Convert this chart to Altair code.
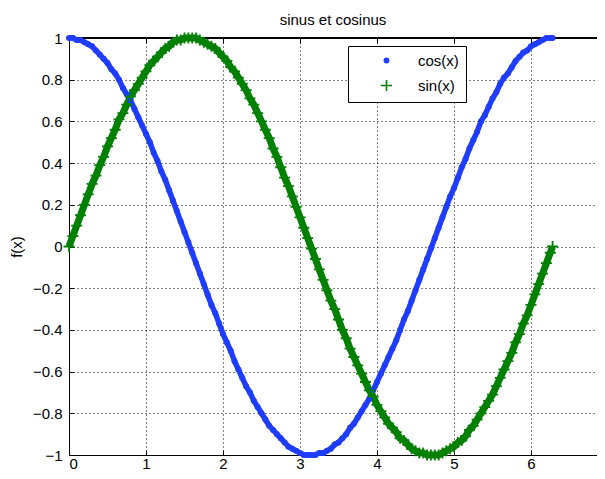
import altair as alt
import pandas as pd

x_vals = [
    0.00, 0.05, 0.10, 0.15, 0.20, 0.25, 0.30, 0.35, 0.40, 0.45,
    0.50, 0.55, 0.60, 0.65, 0.70, 0.75, 0.80, 0.85, 0.90, 0.95,
    1.00, 1.05, 1.10, 1.15, 1.20, 1.25, 1.30, 1.35, 1.40, 1.45,
    1.50, 1.55, 1.60, 1.65, 1.70, 1.75, 1.80, 1.85, 1.90, 1.95,
    2.00, 2.05, 2.10, 2.15, 2.20, 2.25, 2.30, 2.35, 2.40, 2.45,
    2.50, 2.55, 2.60, 2.65, 2.70, 2.75, 2.80, 2.85, 2.90, 2.95,
    3.00, 3.05, 3.10, 3.15, 3.20, 3.25, 3.30, 3.35, 3.40, 3.45,
    3.50, 3.55, 3.60, 3.65, 3.70, 3.75, 3.80, 3.85, 3.90, 3.95,
    4.00, 4.05, 4.10, 4.15, 4.20, 4.25, 4.30, 4.35, 4.40, 4.45,
    4.50, 4.55, 4.60, 4.65, 4.70, 4.75, 4.80, 4.85, 4.90, 4.95,
    5.00, 5.05, 5.10, 5.15, 5.20, 5.25, 5.30, 5.35, 5.40, 5.45,
    5.50, 5.55, 5.60, 5.65, 5.70, 5.75, 5.80, 5.85, 5.90, 5.95,
    6.00, 6.05, 6.10, 6.15, 6.20, 6.25, 6.28,
]

cos_vals = [
    1.00, 1.00, 0.99, 0.99, 0.98, 0.97, 0.96, 0.94, 0.92, 0.90,
    0.88, 0.85, 0.83, 0.80, 0.76, 0.73, 0.70, 0.66, 0.62, 0.58,
    0.54, 0.50, 0.45, 0.41, 0.36, 0.32, 0.27, 0.22, 0.17, 0.12,
    0.07, 0.02, -0.03, -0.08, -0.13, -0.18, -0.23, -0.28, -0.32, -0.37,
    -0.42, -0.46, -0.50, -0.55, -0.59, -0.63, -0.67, -0.70, -0.74, -0.77,
    -0.80, -0.83, -0.86, -0.88, -0.90, -0.92, -0.94, -0.96, -0.97, -0.98,
    -0.99, -1.00, -1.00, -1.00, -1.00, -0.99, -0.99, -0.98, -0.97, -0.95,
    -0.94, -0.92, -0.90, -0.87, -0.85, -0.82, -0.79, -0.76, -0.73, -0.69,
    -0.65, -0.61, -0.57, -0.53, -0.49, -0.45, -0.40, -0.35, -0.31, -0.26,
    -0.21, -0.16, -0.11, -0.06, -0.01, 0.04, 0.09, 0.14, 0.19, 0.24,
    0.28, 0.33, 0.38, 0.42, 0.47, 0.51, 0.55, 0.60, 0.63, 0.67,
    0.71, 0.74, 0.78, 0.81, 0.83, 0.86, 0.89, 0.91, 0.93, 0.94,
    0.96, 0.97, 0.98, 0.99, 1.00, 1.00, 1.00,
]

sin_vals = [
    0.00, 0.05, 0.10, 0.15, 0.20, 0.25, 0.30, 0.34, 0.39, 0.43,
    0.48, 0.52, 0.56, 0.61, 0.64, 0.68, 0.72, 0.75, 0.78, 0.81,
    0.84, 0.87, 0.89, 0.91, 0.93, 0.95, 0.96, 0.98, 0.99, 0.99,
    1.00, 1.00, 1.00, 1.00, 0.99, 0.98, 0.97, 0.96, 0.95, 0.93,
    0.91, 0.89, 0.86, 0.84, 0.81, 0.78, 0.75, 0.71, 0.68, 0.64,
    0.60, 0.56, 0.52, 0.47, 0.43, 0.38, 0.33, 0.29, 0.24, 0.19,
    0.14, 0.09, 0.04, -0.01, -0.06, -0.11, -0.16, -0.21, -0.26, -0.30,
    -0.35, -0.40, -0.44, -0.49, -0.53, -0.57, -0.61, -0.65, -0.69, -0.72,
    -0.76, -0.79, -0.82, -0.85, -0.87, -0.89, -0.92, -0.93, -0.95, -0.97,
    -0.98, -0.99, -0.99, -1.00, -1.00, -1.00, -1.00, -0.99, -0.98, -0.97,
    -0.96, -0.94, -0.93, -0.91, -0.88, -0.86, -0.83, -0.80, -0.77, -0.74,
    -0.71, -0.67, -0.63, -0.59, -0.55, -0.51, -0.46, -0.42, -0.37, -0.33,
    -0.28, -0.23, -0.18, -0.13, -0.08, -0.03, 0.00,
]

series_names = ["cos(x)", "sin(x)"]
series_colors = ["#1f3dff", "#008000"]
x_ticks = [0, 1, 2, 3, 4, 5, 6]
y_ticks = [-1, -0.8, -0.6, -0.4, -0.2, 0, 0.2, 0.4, 0.6, 0.8, 1]
x_max = 6.857  # visible part of the 0..7 axis

df = pd.DataFrame({
    "x": x_vals + x_vals,
    "y": cos_vals + sin_vals,
    "series": [series_names[0]] * len(x_vals) + [series_names[1]] * len(x_vals),
})

FONT = "Liberation Sans"
FS = 15
PLUS = "M-1,0L1,0M0,-1L0,1"

xs = alt.Scale(domain=[0, x_max], nice=False, zero=False)
ys = alt.Scale(domain=[-1, 1], nice=False, zero=False)

# main axes (labels, grid, frame lines)
x_main = alt.X("x:Q", scale=xs, axis=alt.Axis(orient="bottom", values=x_ticks, title=None, format="~g",
                                               grid=True, domain=True, ticks=False, labelPadding=1))
y_main = alt.Y("y:Q", scale=ys, axis=alt.Axis(orient="left", values=y_ticks, title="f(x)", format="~g",
                                               grid=True, domain=True, ticks=False))


# tick-only axes drawn on the inner side of the frame
def tick_axis(orient, values):
    return alt.Axis(orient=orient, values=values, title=None, labels=False, grid=False,
                    domain=False, ticks=True, tickSize=5, tickColor="black", offset=-5)


x_top_ticks = alt.X("x:Q", scale=xs, axis=tick_axis("top", x_ticks))
x_bottom_ticks = alt.X("x:Q", scale=xs, axis=tick_axis("bottom", x_ticks))
y_left_ticks = alt.Y("y:Q", scale=ys, axis=tick_axis("left", y_ticks))
y_none = alt.Y("y:Q", scale=ys, axis=None)

base = alt.Chart(df)

cos_line = base.transform_filter(alt.datum.series == series_names[0]).mark_line(
    color=series_colors[0], strokeWidth=5.5
).encode(x=x_main, y=y_main)

top_frame = base.mark_rule(color="black", strokeWidth=1).encode(
    x=alt.datum(0, scale=xs, axis=None), x2=alt.datum(x_max), y=alt.datum(1, scale=ys, axis=None)
)

sin_line = base.transform_filter(alt.datum.series == series_names[1]).mark_line(
    color=series_colors[1], strokeWidth=7
).encode(x=x_top_ticks, y=y_left_ticks)

leg = alt.Legend(
    title=None, orient="none", legendX=279, legendY=8,
    fillColor="white", strokeColor="black", padding=7,
    labelFont=FONT, labelFontSize=FS, labelColor="black",
    symbolOffset=24, labelOffset=24, rowPadding=7, symbolStrokeWidth=1.6,
)

points = base.mark_point(strokeWidth=1.8, opacity=1).encode(
    x=x_bottom_ticks,
    y=y_none,
    stroke=alt.Stroke("series:N", scale=alt.Scale(domain=series_names, range=series_colors), legend=leg),
    fill=alt.Fill("series:N", scale=alt.Scale(domain=series_names, range=[series_colors[0], "transparent"]), legend=leg),
    shape=alt.Shape("series:N", scale=alt.Scale(domain=series_names, range=["circle", PLUS]), legend=leg),
    size=alt.Size("series:N", scale=alt.Scale(domain=series_names, range=[18, 121]), legend=leg),
)

chart = alt.layer(cos_line, top_frame, sin_line, points).resolve_axis(
    x="independent", y="independent"
).properties(
    width=528,
    height=417,
    title="sinus et cosinus",
    autosize=alt.AutoSizeParams(type="none"),
    padding={"left": 61, "top": 30, "right": 0, "bottom": 16},
).configure_view(
    stroke=None
).configure_axis(
    gridColor="black", gridDash=[1, 3], gridOpacity=1, gridWidth=1,
    domainColor="black", domainWidth=1,
    labelFont=FONT, labelFontSize=FS, labelColor="black", labelPadding=7,
    titleFont=FONT, titleFontSize=FS, titleFontWeight="normal", titleColor="black", titlePadding=8,
).configure_title(
    font=FONT, fontSize=FS, fontWeight="normal", color="black", anchor="middle", offset=-4,
)

chart.save("out.html", embed_options={"renderer": "svg", "actions": False})
